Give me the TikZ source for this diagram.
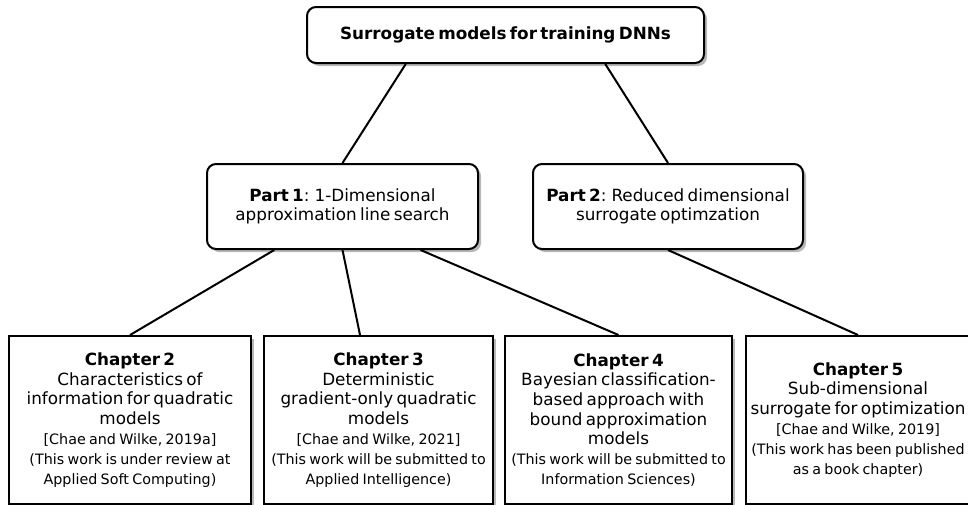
\documentclass[tikz,border=0pt]{standalone}
\usepackage{fontspec}
\setmainfont{DejaVu Sans}
\usetikzlibrary{shadows,calc}
\newcommand\bigtxt{\fontsize{16.8}{19.6}\selectfont}
\newcommand\smalltxt{\fontsize{14.3}{20}\selectfont}
\begin{document}
\begin{tikzpicture}[x=1pt,y=-1pt,
  box/.style={draw=black, line width=2pt, fill=white, inner sep=0pt, align=center,
    drop shadow={shadow xshift=3pt, shadow yshift=-3pt, fill=black!28, opacity=1}},
  rbox/.style={box, rounded corners=9pt},
  chbox/.style={box, minimum height=168pt},
  link/.style={line width=2pt}]
\useasboundingbox (0,0) rectangle (968,504);
\fill[white] (0,0) rectangle (968,504);

\node[rbox, minimum width=397pt, minimum height=56pt, text width=390pt] (top) at (505.5,35)
  {\bigtxt\textbf{Surrogate models for training DNNs}\par};

\node[rbox, minimum width=271pt, minimum height=85pt, text width=265pt] (p1) at (342.5,206.5)
  {\bigtxt\textbf{Part 1}: 1-Dimensional\\approximation line search\par};
\node[rbox, minimum width=270pt, minimum height=85pt, text width=265pt] (p2) at (668,206.5)
  {\bigtxt\textbf{Part 2}: Reduced dimensional\\surrogate optimzation\par};

\node[chbox, minimum width=242pt, text width=240pt] (c2) at (130,420)
  {{\bigtxt\textbf{Chapter 2}\\Characteristics of\\information for quadratic\\models\par}%
   {\smalltxt [Chae and Wilke, 2019a]\\(This work is under review at\\Applied Soft Computing)\par}};
\node[chbox, minimum width=229pt, text width=228pt] (c3) at (378.5,420)
  {{\bigtxt\textbf{Chapter 3}\\Deterministic\\gradient-only quadratic\\models\par}%
   {\smalltxt [Chae and Wilke, 2021]\\(This work will be submitted to\\Applied Intelligence)\par}};
\node[chbox, minimum width=227pt, text width=226pt] (c4) at (618.5,420)
  {{\bigtxt\textbf{Chapter 4}\\Bayesian classification-\\based approach with\\bound approximation\\models\par}%
   {\smalltxt (This work will be submitted to\\Information Sciences)\par}};
\node[chbox, minimum width=224pt, text width=224pt] (c5) at (858,420)
  {{\bigtxt\textbf{Chapter 5}\\Sub-dimensional\\surrogate for optimization\par}%
   {\smalltxt [Chae and Wilke, 2019]\\(This work has been published\\as a book chapter)\par}};

\draw[link] ($(top.south west)!0.25!(top.south east)$) -- (p1.north);
\draw[link] ($(top.south west)!0.75!(top.south east)$) -- (p2.north);
\draw[link] ($(p1.south west)!0.25!(p1.south east)$) -- (c2.north);
\draw[link] (p1.south) -- ($(c3.north west)!0.42!(c3.north east)$);
\draw[link] ($(p1.south west)!0.786!(p1.south east)$) -- (c4.north);
\draw[link] (p2.south) -- (c5.north);
\end{tikzpicture}
\end{document}
